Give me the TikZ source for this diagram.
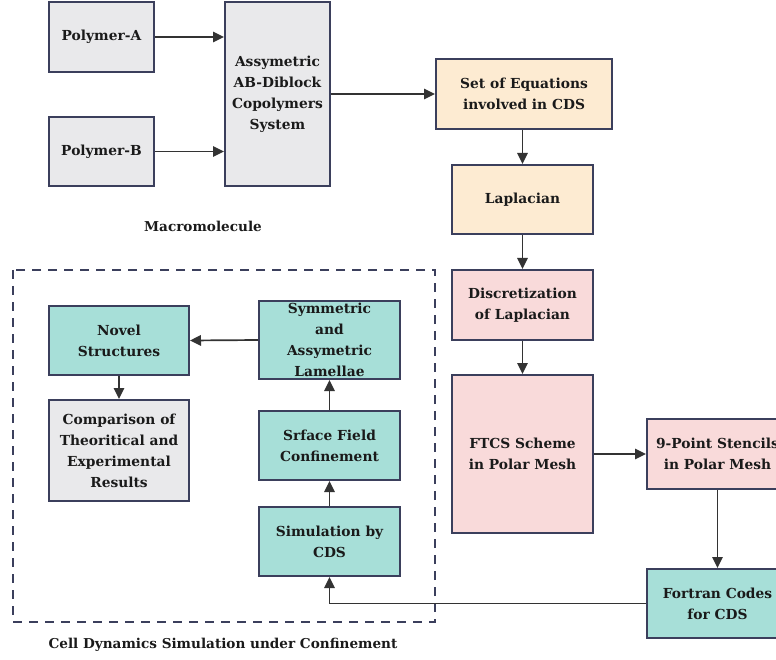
\documentclass[tikz,border=0pt]{standalone}
\usepackage{fontspec}
\setmainfont{DejaVu Serif}
\usetikzlibrary{arrows.meta}
\definecolor{bordc}{HTML}{3B3F5C}
\definecolor{grayf}{HTML}{E9E9EB}
\definecolor{peachf}{HTML}{FDEBD2}
\definecolor{pinkf}{HTML}{F9DADA}
\definecolor{tealf}{HTML}{A7DFD8}
\definecolor{arrc}{HTML}{333333}
\definecolor{txtc}{HTML}{1A1A1A}
\tikzset{
  blk/.style={draw=bordc, line width=2pt, align=center, inner sep=0pt,
    font=\fontsize{13.8}{21}\selectfont\bfseries, text=txtc},
  grayblk/.style={blk, fill=grayf},
  peachblk/.style={blk, fill=peachf},
  pinkblk/.style={blk, fill=pinkf},
  tealblk/.style={blk, fill=tealf},
  conn/.style={draw=arrc, line width=1.7pt, -{Triangle[length=11pt,width=10.5pt]}},
  caption/.style={font=\fontsize{13.6}{21}\selectfont\bfseries, text=txtc},
}
\begin{document}
\begin{tikzpicture}[x=1pt,y=-1pt]
\useasboundingbox (0,0) rectangle (776,660);
% dashed frame
\draw[draw=bordc, line width=2pt, dash pattern=on 9pt off 7pt] (13,270) rectangle (435,622);
% macromolecule
\node[grayblk, minimum width=105pt, minimum height=70pt] (pa) at (101.5,37) {Polymer-A};
\node[grayblk, minimum width=105pt, minimum height=69pt] (pb) at (101.5,151.5) {Polymer-B};
\node[grayblk, minimum width=105pt, minimum height=184pt] (ab) at (277.5,94) {Assymetric\\AB-Diblock\\Copolymers\\System};
\node[caption] (macro) at (203,226) {Macromolecule};
% right column
\node[peachblk, minimum width=176pt, minimum height=70pt] (set) at (524,94) {Set of Equations\\involved in CDS};
\node[peachblk, minimum width=141pt, minimum height=69pt] (lap) at (522.5,199.5) {Laplacian};
\node[pinkblk, minimum width=141pt, minimum height=70pt] (disc) at (522.5,305) {Discretization\\of Laplacian};
\node[pinkblk, minimum width=141pt, minimum height=158pt] (ftcs) at (522.5,454) {FTCS Scheme\\in Polar Mesh};
\node[pinkblk, minimum width=141pt, minimum height=70pt] (nine) at (717.5,454) {9-Point Stencils\\in Polar Mesh};
\node[tealblk, minimum width=141pt, minimum height=69pt] (fort) at (717.5,603.5) {Fortran Codes\\for CDS};
% inner CDS blocks
\node[tealblk, minimum width=140pt, minimum height=69pt] (novel) at (119,340.5) {Novel\\Structures};
\node[grayblk, minimum width=140pt, minimum height=101pt] (comp) at (119,450.5) {Comparison of\\Theoritical and\\Experimental\\Results};
\node[tealblk, minimum width=141pt, minimum height=78pt] (sym) at (329.5,340) {Symmetric\\and\\Assymetric\\Lamellae};
\node[tealblk, minimum width=141pt, minimum height=69pt] (srf) at (329.5,445.5) {Srface Field\\Confinement};
\node[tealblk, minimum width=141pt, minimum height=69pt] (sim) at (329.5,541.5) {Simulation by\\CDS};
\node[caption] (cdscap) at (223,645) {Cell Dynamics Simulation under Confinement};
% connectors
\draw[conn] (pa.east) -- (pa.east -| ab.west);
\draw[conn] (pb.east) -- (pb.east -| ab.west);
\draw[conn] (ab.east) -- (set.west);
\draw[conn] (set.south -| lap.north) -- (lap.north);
\draw[conn] (lap.south) -- (disc.north);
\draw[conn] (disc.south) -- (ftcs.north);
\draw[conn] (ftcs.east) -- (nine.west);
\draw[conn] (nine.south) -- (fort.north);
\draw[conn] (fort.west) -| (sim.south);
\draw[conn] (sim.north) -- (srf.south);
\draw[conn] (srf.north) -- (sym.south);
\draw[conn] (sym.west) -- (novel.east);
\draw[conn] (novel.south) -- (comp.north);
\end{tikzpicture}
\end{document}
